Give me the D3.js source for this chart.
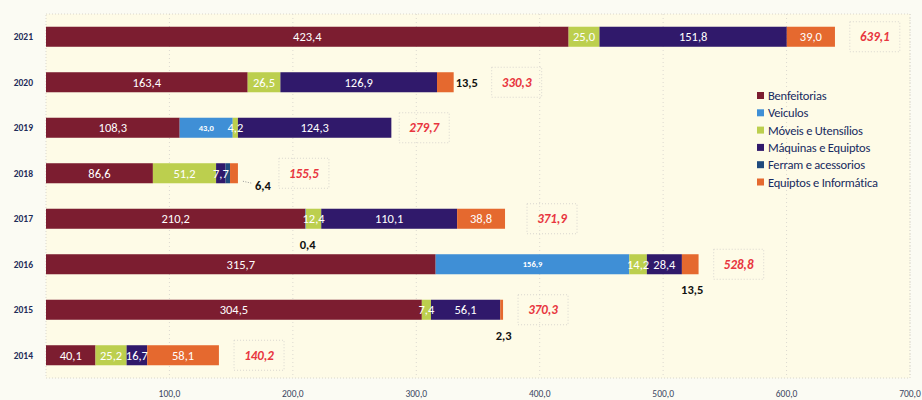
<!DOCTYPE html>
<html>
<head>
<meta charset="utf-8">
<script src="https://cdn.jsdelivr.net/npm/d3@7"></script>
<style>
  html, body { margin: 0; padding: 0; background: #fbfbf3; }
  svg { display: block; }
  text { font-family: Carlito, Calibri, Lato, "Open Sans", sans-serif; }
</style>
</head>
<body>
<svg id="chart" width="922" height="400"></svg>
<script>
// Investment per year by asset group (values in thousands)
const years = ["2021", "2020", "2019", "2018", "2017", "2016", "2015", "2014"];
const seriesNames = ["Benfeitorias", "Veiculos", "Móveis e Utensílios", "Máquinas e Equiptos", "Ferram e acessorios", "Equiptos e Informática"];
const benfeitorias = [423.4, 163.4, 108.3, 86.6, 210.2, 315.7, 304.5, 40.1];
const veiculos     = [0, 0, 43.0, 0, 0.4, 156.9, 0, 0];
const moveis       = [25.0, 26.5, 4.2, 51.2, 12.4, 14.2, 7.4, 25.2];
const maquinas     = [151.8, 126.9, 124.3, 7.7, 110.1, 28.4, 56.1, 16.7];
const ferramentas  = [0, 0, 0, 3.6, 0, 0, 0, 0];
const informatica  = [39.0, 13.5, 0, 6.4, 38.8, 13.5, 2.3, 58.1];
const totals       = [639.1, 330.3, 279.7, 155.5, 371.9, 528.8, 370.3, 140.2];
const xTicks       = [100, 200, 300, 400, 500, 600, 700];

const colors = ["#7c1d30", "#3f8fd6", "#bccf4e", "#30196b", "#1f4a7d", "#e5692f"];
const seriesValues = [benfeitorias, veiculos, moveis, maquinas, ferramentas, informatica];

const rows = years.map((y, i) => {
  const r = { year: y, total: totals[i] };
  seriesNames.forEach((s, k) => { r[s] = seriesValues[k][i]; });
  return r;
});

// segment labels drawn outside the bar: "right" of the bar end, "below" the segment, or "leader" with a short dotted line
const outside = {
  "2020|Equiptos e Informática": "right",
  "2018|Equiptos e Informática": "leader",
  "2018|Ferram e acessorios": "none",
  "2017|Veiculos": "below",
  "2016|Equiptos e Informática": "below",
  "2015|Equiptos e Informática": "below"
};
// extra horizontal room for the total label on a few rows
const totalShift = { "2020": 63, "2019": 33, "2018": 66, "2017": 47 };

const svg = d3.select("#chart");
const plotLeft = 46, plotRight = 910, plotTop = 14, plotBottom = 378;

const x = d3.scaleLinear().domain([0, 700]).range([plotLeft, plotRight]);
const y = d3.scaleBand().domain(years).range([plotTop, plotBottom]).paddingInner(0.56).paddingOuter(0.28);

// plot area
svg.append("rect").attr("x", plotLeft).attr("y", plotTop).attr("width", plotRight - plotLeft).attr("height", plotBottom - plotTop)
  .attr("fill", "#fefbe7").attr("stroke", "#d9d6cc").attr("stroke-dasharray", "1,2");

// vertical gridlines
svg.append("g").selectAll("line").data(xTicks).join("line")
  .attr("x1", d => x(d)).attr("x2", d => x(d)).attr("y1", plotTop).attr("y2", plotBottom)
  .attr("stroke", "#dcd9d0").attr("stroke-dasharray", "1,3");

// x axis labels
const fmt = v => d3.format(".1f")(v).replace(".", ",");
svg.append("g").selectAll("text").data(xTicks).join("text")
  .attr("x", d => x(d)).attr("y", 397)
  .attr("text-anchor", "middle").attr("font-size", 9.5).attr("fill", "#3a4560")
  .text(d => fmt(d));

// y axis labels
svg.append("g").selectAll("text").data(years).join("text")
  .attr("x", 33).attr("y", d => y(d) + y.bandwidth() / 2 + 3.5)
  .attr("text-anchor", "end").attr("font-size", 9.5).attr("font-weight", "bold").attr("fill", "#1f2d5a")
  .text(d => d);

const stacked = d3.stack().keys(seriesNames)(rows);

const layers = svg.append("g").selectAll("g").data(stacked).join("g")
  .attr("fill", (d, i) => colors[i]);

layers.selectAll("rect").data(d => d.filter(p => p[1] - p[0] > 0)).join("rect")
  .attr("x", d => x(d[0]))
  .attr("y", d => y(d.data.year))
  .attr("width", d => x(d[1]) - x(d[0]))
  .attr("height", y.bandwidth());

// segment value labels
const labels = svg.append("g");
stacked.forEach((layer, k) => {
  const name = seriesNames[k];
  layer.forEach(p => {
    const v = p[1] - p[0];
    if (v <= 0) return;
    const yr = p.data.year;
    const mode = outside[yr + "|" + name];
    const cy = y(yr) + y.bandwidth() / 2;
    if (mode === "none") return;
    if (!mode) {
      labels.append("text")
        .attr("x", (x(p[0]) + x(p[1])) / 2).attr("y", cy + (name === "Veiculos" ? 3 : 4.5))
        .attr("text-anchor", "middle")
        .attr("font-size", name === "Veiculos" ? 8.5 : 12.5)
        .attr("font-weight", name === "Veiculos" ? "bold" : "normal")
        .attr("fill", "#ffffff")
        .text(fmt(v));
    } else {
      const t = labels.append("text").attr("font-size", 12.5).attr("font-weight", "bold").attr("fill", "#111111").text(fmt(v));
      if (mode === "right") {
        t.attr("x", x(p[1]) + 2).attr("y", cy + 4.5);
      } else if (mode === "below") {
        t.attr("x", (x(p[0]) + x(p[1])) / 2 + 2).attr("y", y(yr) + y.bandwidth() + 20).attr("text-anchor", "middle");
      } else if (mode === "leader") {
        const ex = x(totals[years.indexOf(yr)]);
        labels.append("line").attr("x1", ex + 5).attr("y1", cy + 8).attr("x2", ex + 14).attr("y2", cy + 10)
          .attr("stroke", "#999").attr("stroke-dasharray", "1,1.5");
        t.attr("x", ex + 25).attr("y", cy + 17).attr("text-anchor", "middle");
      }
    }
  });
});

// total labels in dotted boxes
rows.forEach(r => {
  const cx = x(r.total) + (totalShift[r.year] || 40);
  const cy = y(r.year) + y.bandwidth() / 2;
  labels.append("rect").attr("x", cx - 25).attr("y", cy - 15).attr("width", 50).attr("height", 30)
    .attr("fill", "none").attr("stroke", "#d8d6cf").attr("stroke-dasharray", "1,2");
  labels.append("text").attr("x", cx).attr("y", cy + 4.5).attr("text-anchor", "middle")
    .attr("font-size", 13).attr("font-weight", "bold").attr("font-style", "italic").attr("fill", "#e8363f")
    .text(fmt(r.total));
});

// legend
const legend = svg.append("g").attr("transform", "translate(757, 96)");
const li = legend.selectAll("g").data(seriesNames).join("g")
  .attr("transform", (d, i) => `translate(0, ${i * 17.3})`);
li.append("rect").attr("x", 0).attr("y", -4).attr("width", 7).attr("height", 7)
  .attr("fill", (d, i) => colors[i]);
li.append("text").attr("x", 11).attr("y", 4).attr("font-size", 12.5).attr("fill", "#172a60")
  .attr("letter-spacing", -0.2)
  .text(d => d);
</script>
</body>
</html>
